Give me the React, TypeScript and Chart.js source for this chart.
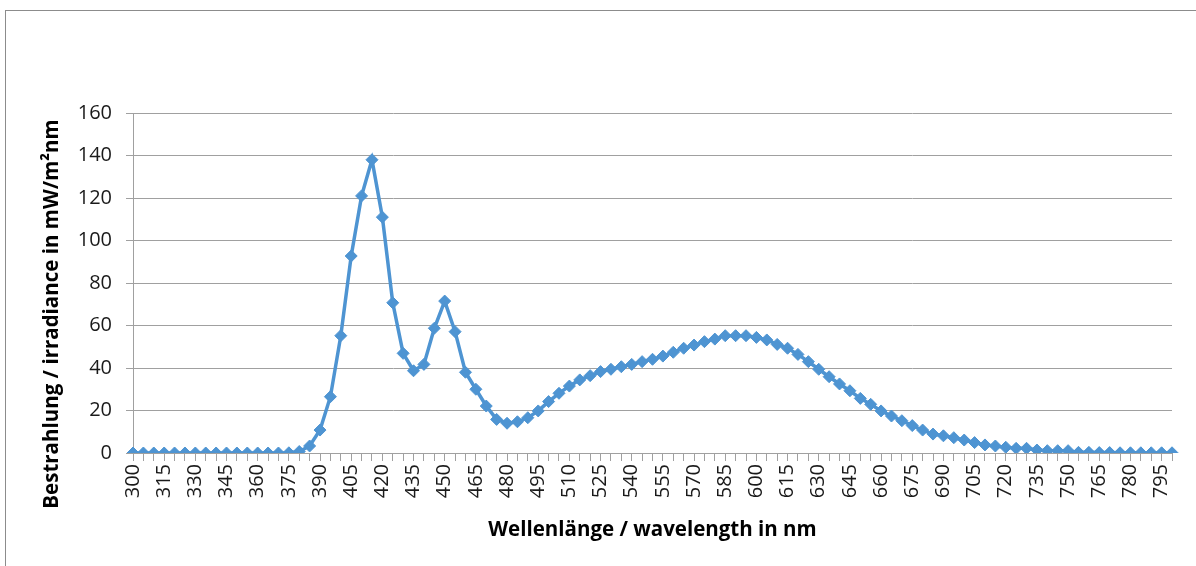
import React, { useEffect, useRef } from "react";
import { Chart, registerables } from "chart.js";

Chart.register(...registerables);

const wavelengths: number[] = [
  300, 305, 310, 315, 320, 325, 330, 335, 340, 345,
  350, 355, 360, 365, 370, 375, 380, 385, 390, 395,
  400, 405, 410, 415, 420, 425, 430, 435, 440, 445,
  450, 455, 460, 465, 470, 475, 480, 485, 490, 495,
  500, 505, 510, 515, 520, 525, 530, 535, 540, 545,
  550, 555, 560, 565, 570, 575, 580, 585, 590, 595,
  600, 605, 610, 615, 620, 625, 630, 635, 640, 645,
  650, 655, 660, 665, 670, 675, 680, 685, 690, 695,
  700, 705, 710, 715, 720, 725, 730, 735, 740, 745,
  750, 755, 760, 765, 770, 775, 780, 785, 790, 795,
  800,
];

const irradiance: number[] = [
  0, 0, 0, 0, 0, 0, 0, 0, 0, 0,
  0, 0, 0, 0, 0, 0.1, 0.7, 3.3, 10.8, 26.5,
  55.2, 92.7, 121, 138, 111, 70.7, 46.9, 38.7, 41.7, 58.7,
  71.5, 57.1, 38, 30, 22.1, 15.8, 14, 14.7, 16.6, 19.8,
  24.2, 28.1, 31.5, 34.4, 36.4, 38.3, 39.4, 40.6, 41.7, 43,
  44.1, 45.6, 47.4, 49.3, 50.8, 52.4, 53.6, 55.2, 55.2, 55.2,
  54.4, 53.2, 51.1, 49.3, 46.4, 43, 39.4, 35.9, 32.5, 29.3,
  25.7, 22.9, 19.8, 17.4, 15.2, 12.9, 10.8, 8.9, 8.1, 7.2,
  6.1, 4.9, 3.8, 3.3, 2.7, 2.2, 2.2, 1.4, 1.1, 1.1,
  1.1, 0.3, 0.3, 0.2, 0.2, 0.1, 0.1, 0.1, 0.1, 0.1,
  0.1,
];

const yTitle = "Bestrahlung / irradiance in mW/m²nm";
const xTitle = "Wellenlänge / wavelength in nm";
const labelEvery = 3;

const FONT = "'Open Sans', 'DejaVu Sans', sans-serif";
const GRID = "#a0a0a0";
const LINE = "#4e94d2";

const yTitlePlugin = {
  id: "yTitlePlugin",
  afterDraw(chart: any) {
    const { ctx } = chart;
    ctx.save();
    ctx.translate(52, 314);
    ctx.rotate(-Math.PI / 2);
    ctx.font = `bold 20.5px ${FONT}`;
    ctx.fillStyle = "#000";
    ctx.textAlign = "center";
    ctx.textBaseline = "middle";
    ctx.fillText(yTitle, 0, 0);
    ctx.restore();
  },
};

export default function App() {
  const ref = useRef<HTMLCanvasElement | null>(null);
  useEffect(() => {
    document.body.style.margin = "0";
    const chart = new Chart(ref.current as HTMLCanvasElement, {
      type: "line",
      data: {
        labels: wavelengths.map(String),
        datasets: [
          {
            data: irradiance,
            borderColor: LINE,
            backgroundColor: LINE,
            borderWidth: 3.5,
            pointStyle: "rectRot",
            pointRadius: 6,
            pointBorderWidth: 1,
            pointBackgroundColor: LINE,
            pointBorderColor: LINE,
            tension: 0,
          },
        ],
      },
      options: {
        animation: false,
        responsive: false,
        maintainAspectRatio: false,
        layout: { padding: { left: 0, top: 113, right: 24, bottom: 0 } },
        plugins: {
          legend: { display: false },
          tooltip: { enabled: false },
        },
        scales: {
          x: {
            type: "category",
            offset: false,
            afterFit: (s: any) => {
              s.height = 113;
              s.paddingLeft = 0;
              s.paddingRight = 0;
            },
            grid: {
              display: true,
              drawOnChartArea: false,
              drawTicks: true,
              tickLength: 8,
              color: GRID,
            },
            border: { display: true, color: GRID, width: 1 },
            ticks: {
              autoSkip: false,
              maxRotation: 90,
              minRotation: 90,
              padding: 3,
              color: "#1a1a1a",
              font: { family: FONT, size: 20 },
              callback: (_v: any, i: number) =>
                i % labelEvery === 0 ? String(wavelengths[i]) : "",
            },
            title: {
              display: true,
              text: xTitle,
              color: "#000",
              font: { family: FONT, size: 20.5, weight: "bold" },
              padding: { top: 0, bottom: 24 },
            },
          },
          y: {
            min: 0,
            max: 160,
            afterFit: (s: any) => {
              s.width = 133;
            },
            grid: { color: GRID, tickLength: 7, lineWidth: 1 },
            border: { display: true, color: GRID, width: 1 },
            ticks: {
              stepSize: 20,
              padding: 14,
              color: "#1a1a1a",
              font: { family: FONT, size: 20 },
            },
          },
        },
      },
      plugins: [yTitlePlugin],
    });
    return () => chart.destroy();
  }, []);

  return (
    <div style={{ position: "fixed", left: 0, top: 0, width: 1196, height: 566, overflow: "hidden", background: "#fff" }}>
      <div
        style={{
          position: "absolute",
          left: 5,
          top: 10,
          width: 1300,
          height: 700,
          borderLeft: "1px solid #8c8c8c",
          borderTop: "1px solid #8c8c8c",
        }}
      />
      <canvas ref={ref} width={1196} height={566} style={{ position: "absolute", left: 0, top: 0 }} />
    </div>
  );
}
